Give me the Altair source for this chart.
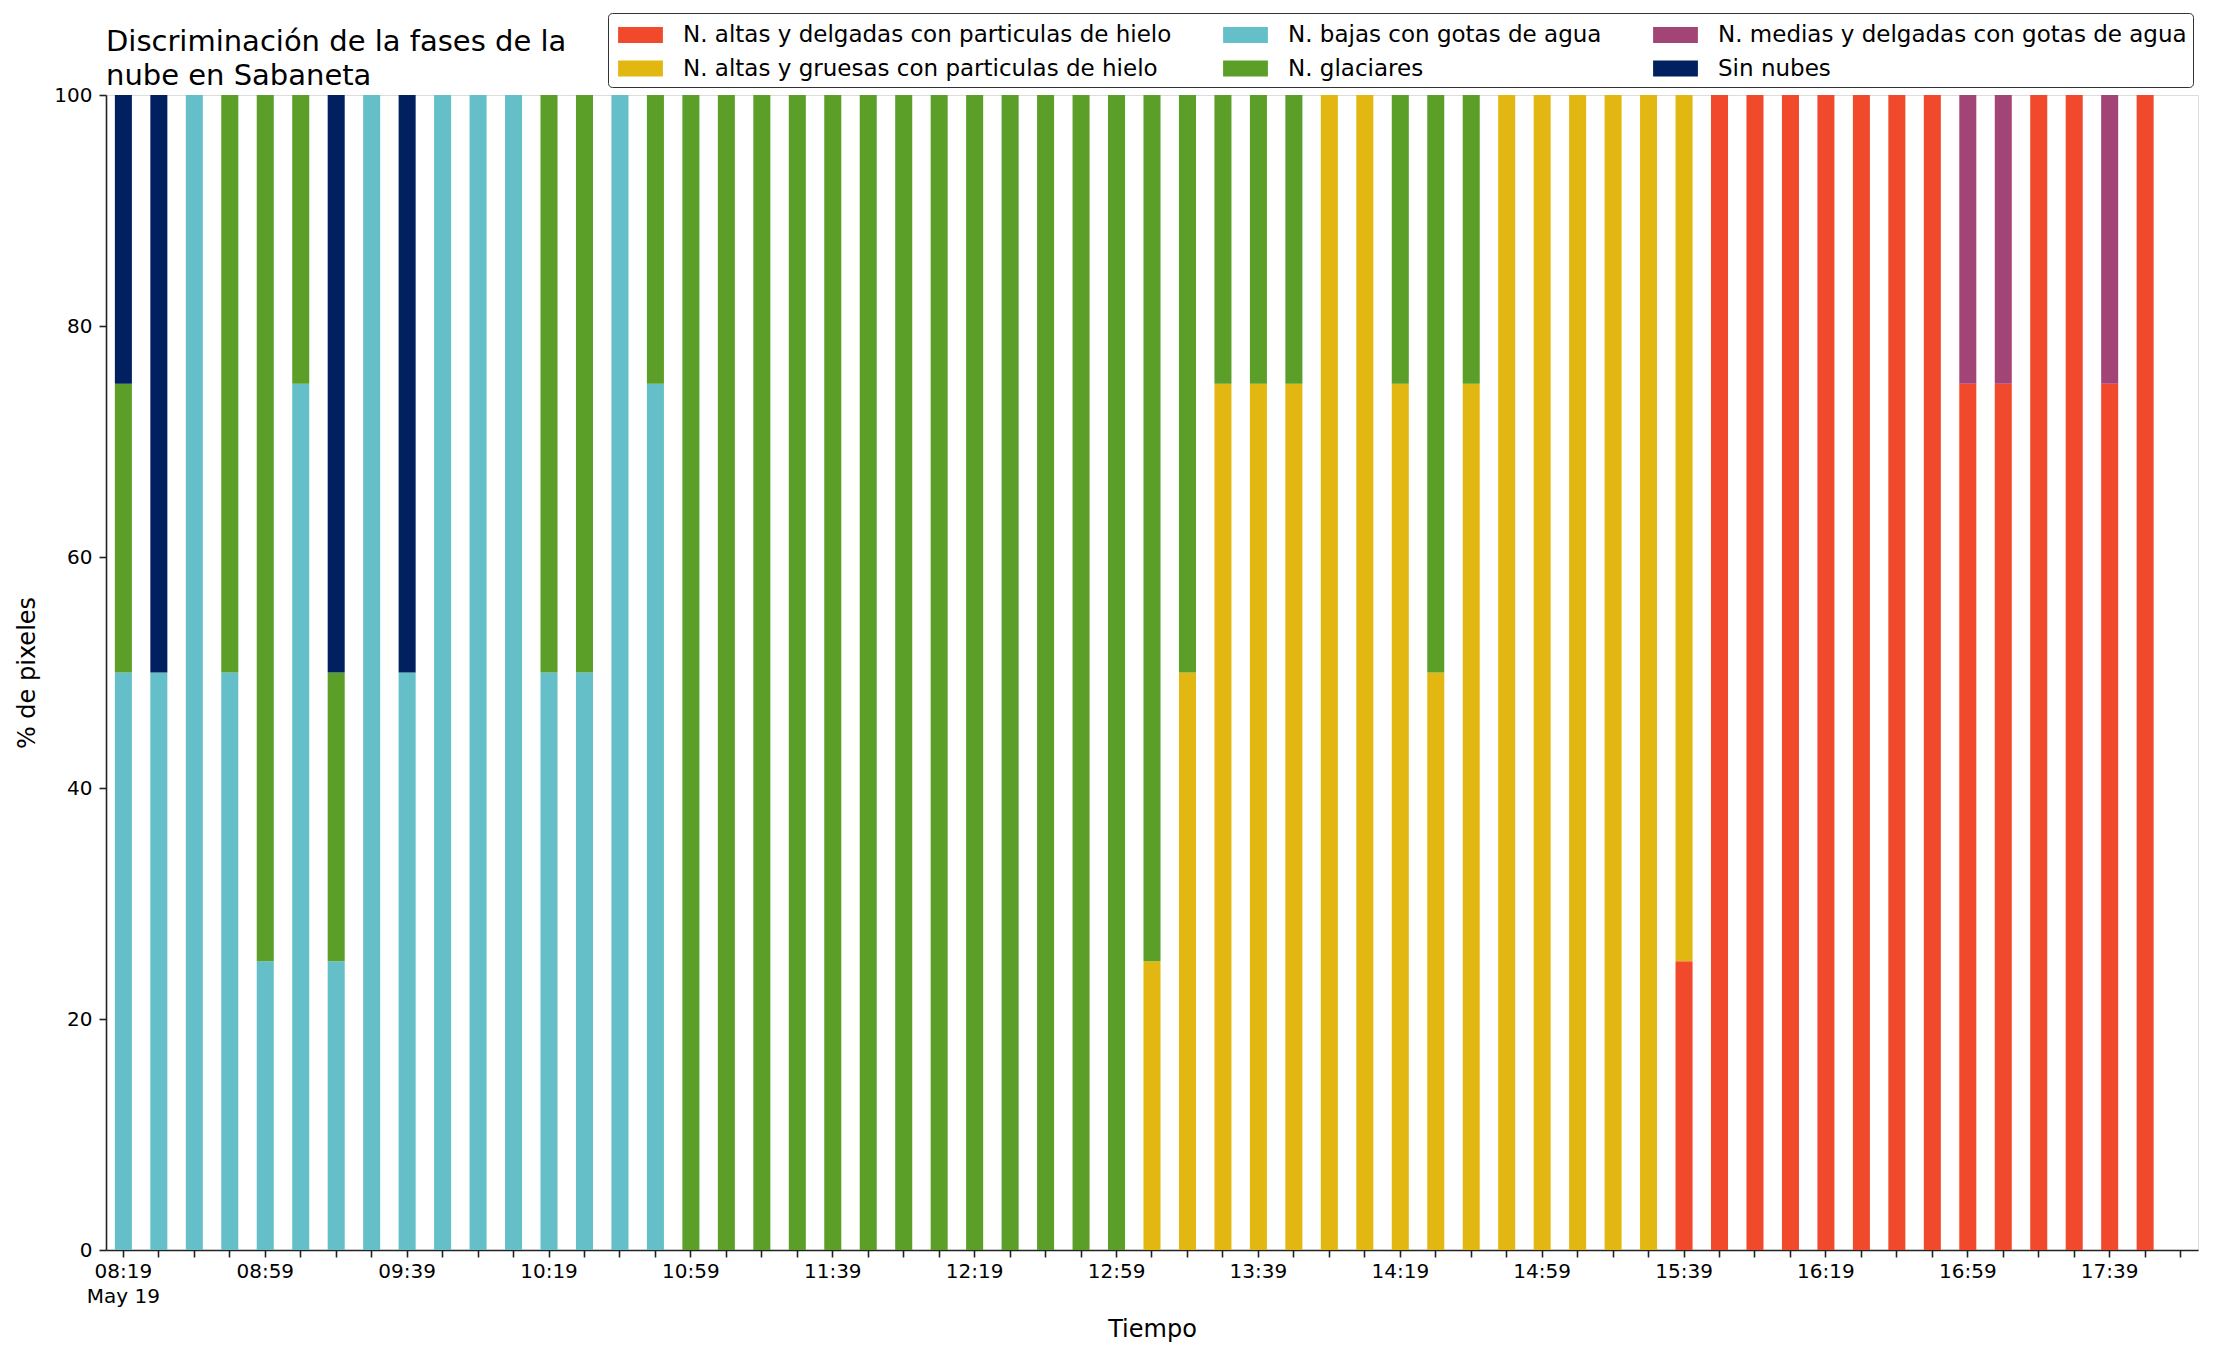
import json
import altair as alt
import pandas as pd

# ---------------- data ----------------
times = ['08:19', '08:29', '08:39', '08:49', '08:59', '09:09', '09:19', '09:29', '09:39', '09:49',
         '09:59', '10:09', '10:19', '10:29', '10:39', '10:49', '10:59', '11:09', '11:19', '11:29',
         '11:39', '11:49', '11:59', '12:09', '12:19', '12:29', '12:39', '12:49', '12:59', '13:09',
         '13:19', '13:29', '13:39', '13:49', '13:59', '14:09', '14:19', '14:29', '14:39', '14:49',
         '14:59', '15:09', '15:19', '15:29', '15:39', '15:49', '15:59', '16:09', '16:19', '16:29',
         '16:39', '16:49', '16:59', '17:09', '17:19', '17:29', '17:39', '17:49']
axis_times = times + ['17:59']
labeled_times = ['08:19', '08:59', '09:39', '10:19', '10:59', '11:39', '12:19', '12:59',
                 '13:39', '14:19', '14:59', '15:39', '16:19', '16:59', '17:39']

series = ["N. altas y delgadas con particulas de hielo",
          "N. altas y gruesas con particulas de hielo",
          "N. bajas con gotas de agua",
          "N. glaciares",
          "N. medias y delgadas con gotas de agua",
          "Sin nubes"]
colors = ["#F0492C", "#E3B712", "#64BFC9", "#5B9E28", "#A34477", "#00205F"]

altas_delgadas = [0, 0, 0, 0, 0, 0, 0, 0, 0, 0,
                  0, 0, 0, 0, 0, 0, 0, 0, 0, 0,
                  0, 0, 0, 0, 0, 0, 0, 0, 0, 0,
                  0, 0, 0, 0, 0, 0, 0, 0, 0, 0,
                  0, 0, 0, 0, 25, 100, 100, 100, 100, 100,
                  100, 100, 75, 75, 100, 100, 75, 100]
altas_gruesas = [0, 0, 0, 0, 0, 0, 0, 0, 0, 0,
                 0, 0, 0, 0, 0, 0, 0, 0, 0, 0,
                 0, 0, 0, 0, 0, 0, 0, 0, 0, 25,
                 50, 75, 75, 75, 100, 100, 75, 50, 75, 100,
                 100, 100, 100, 100, 75, 0, 0, 0, 0, 0,
                 0, 0, 0, 0, 0, 0, 0, 0]
bajas_agua = [50, 50, 100, 50, 25, 75, 25, 100, 50, 100,
              100, 100, 50, 50, 100, 75, 0, 0, 0, 0,
              0, 0, 0, 0, 0, 0, 0, 0, 0, 0,
              0, 0, 0, 0, 0, 0, 0, 0, 0, 0,
              0, 0, 0, 0, 0, 0, 0, 0, 0, 0,
              0, 0, 0, 0, 0, 0, 0, 0]
glaciares = [25, 0, 0, 50, 75, 25, 25, 0, 0, 0,
             0, 0, 50, 50, 0, 25, 100, 100, 100, 100,
             100, 100, 100, 100, 100, 100, 100, 100, 100, 75,
             50, 25, 25, 25, 0, 0, 25, 50, 25, 0,
             0, 0, 0, 0, 0, 0, 0, 0, 0, 0,
             0, 0, 0, 0, 0, 0, 0, 0]
medias_agua = [0, 0, 0, 0, 0, 0, 0, 0, 0, 0,
               0, 0, 0, 0, 0, 0, 0, 0, 0, 0,
               0, 0, 0, 0, 0, 0, 0, 0, 0, 0,
               0, 0, 0, 0, 0, 0, 0, 0, 0, 0,
               0, 0, 0, 0, 0, 0, 0, 0, 0, 0,
               0, 0, 25, 25, 0, 0, 25, 0]
sin_nubes = [25, 50, 0, 0, 0, 0, 50, 0, 50, 0,
             0, 0, 0, 0, 0, 0, 0, 0, 0, 0,
             0, 0, 0, 0, 0, 0, 0, 0, 0, 0,
             0, 0, 0, 0, 0, 0, 0, 0, 0, 0,
             0, 0, 0, 0, 0, 0, 0, 0, 0, 0,
             0, 0, 0, 0, 0, 0, 0, 0]

values = [altas_delgadas, altas_gruesas, bajas_agua, glaciares, medias_agua, sin_nubes]

rows = []
for k, (name, vals) in enumerate(zip(series, values)):
    for t, v in zip(times, vals):
        if v > 0:
            rows.append({"tiempo": t, "serie": name, "pct": v, "orden": k})
df = pd.DataFrame(rows)

FONT = "DejaVu Sans"
DARK = "#222222"

label_expr = ("datum.value == '08:19' ? ['08:19', 'May 19'] : "
              "(indexof(" + json.dumps(labeled_times).replace('"', "'") +
              ", datum.value) >= 0 ? datum.value : '')")

chart = alt.Chart(df).mark_bar().encode(
    x=alt.X("tiempo:N",
            scale=alt.Scale(domain=axis_times, paddingInner=0.52, paddingOuter=0.25),
            axis=alt.Axis(title="Tiempo", labelAngle=0, labelExpr=label_expr,
                          labelOverlap=False, labelFont=FONT, labelFontSize=20,
                          labelColor="black", labelPadding=4, labelLineHeight=25,
                          titleFont=FONT, titleFontSize=24, titleFontWeight="normal",
                          titleColor="black", titlePadding=11,
                          tickSize=7, tickWidth=1.6, tickColor=DARK,
                          domainColor=DARK, domainWidth=1.6)),
    y=alt.Y("pct:Q", stack="zero",
            scale=alt.Scale(domain=[0, 100], nice=False),
            axis=alt.Axis(title="% de pixeles", values=[0, 20, 40, 60, 80, 100],
                          grid=False, labelFont=FONT, labelFontSize=20,
                          labelColor="black", labelPadding=7,
                          titleFont=FONT, titleFontSize=24, titleFontWeight="normal",
                          titleColor="black", titlePadding=14,
                          tickSize=7, tickWidth=1.6, tickColor=DARK,
                          domainColor=DARK, domainWidth=1.6)),
    color=alt.Color("serie:N",
                    scale=alt.Scale(domain=series, range=colors),
                    legend=alt.Legend(title=None, orient="none", legendX=502, legendY=-82,
                                      columns=3,
                                      symbolType="M-1.4,-0.5H1.4V0.5H-1.4Z",
                                      symbolSize=1024, symbolStrokeWidth=0,
                                      symbolOffset=10.5,
                                      labelFont=FONT, labelFontSize=23,
                                      labelColor="black", labelLimit=800,
                                      labelOffset=26.5, rowPadding=5.5, columnPadding=47,
                                      padding=6, fillColor="white",
                                      strokeColor="#333333", cornerRadius=4)),
    order=alt.Order("orden:Q", sort="ascending"),
).properties(
    width=2092,
    height=1155,
    title=alt.TitleParams(text=["Discriminación de la fases de la", "nube en Sabaneta"],
                          anchor="start", frame="group", font=FONT, fontSize=29,
                          fontWeight="normal", color="black", lineHeight=34, offset=4,
                          dy=82),
    autosize=alt.AutoSizeParams(type="none"),
    padding={"left": 98, "top": 87, "right": 6, "bottom": 96},
).configure_view(
    stroke=DARK, strokeWidth=1.6
).configure(background="white")

chart.save("out.html", embed_options={"renderer": "svg", "actions": False})
